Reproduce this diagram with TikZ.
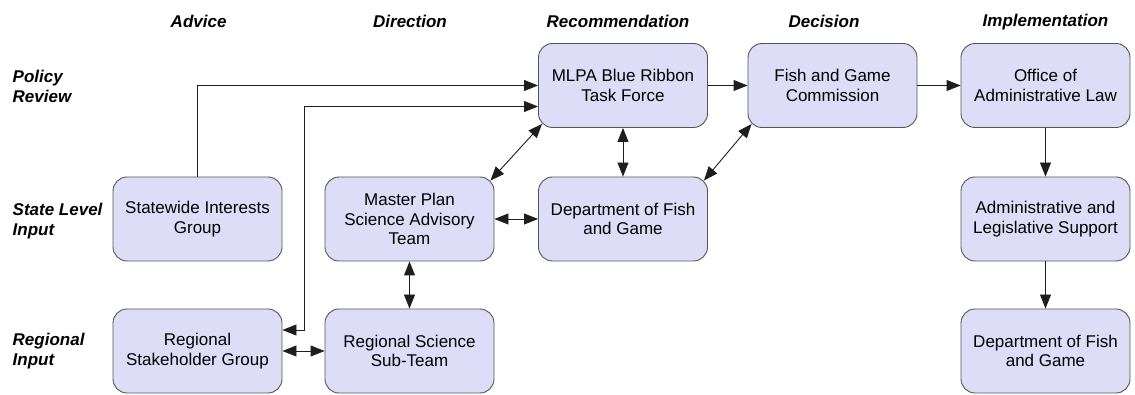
\documentclass[tikz,border=0pt]{standalone}
\usepackage{fontspec}
\setmainfont{Liberation Sans}
\usetikzlibrary{arrows.meta,calc}
\definecolor{boxfill}{RGB}{221,221,248}
\definecolor{boxline}{RGB}{85,85,85}
\definecolor{lineclr}{RGB}{30,30,30}
\begin{document}
\begin{tikzpicture}[x=1pt,y=-1pt,
  box/.style={draw=boxline,fill=boxfill,line width=0.9pt,rounded corners=14pt,
    minimum width=169pt,minimum height=84pt,inner sep=0pt,align=center,
    font=\fontsize{17}{19.5}\selectfont},
  hdr/.style={font=\fontsize{17}{19.5}\selectfont\bfseries\itshape,inner sep=0pt},
  rowlab/.style={font=\fontsize{17}{19.5}\selectfont\bfseries\itshape,inner sep=0pt,align=left,anchor=west},
  conn/.style={draw=lineclr,line width=0.9pt},
  sgl/.style={conn,-{Triangle[length=14pt,width=11pt]}},
  dbl/.style={conn,{Triangle[length=14pt,width=11pt]}-{Triangle[length=14pt,width=11pt]}}]
\useasboundingbox (0,0) rectangle (1135,395);
% headers
\node[hdr] (h1) at (198.6,21.7) {Advice};
\node[hdr] (h2) at (410,21.7) {Direction};
\node[hdr] (h3) at (618,21.7) {Recommendation};
\node[hdr] (h4) at (824,21.7) {Decision};
\node[hdr] (h5) at (1045.5,21.7) {Implementation};
% row labels
\node[rowlab] (r1) at (12.5,86.5) {Policy\\Review};
\node[rowlab] (r2) at (12.5,221.3) {State Level\\Input};
\node[rowlab] (r3) at (12.5,351.2) {Regional\\Input};
% boxes
\node[box] (mlpa) at (623,85.5) {MLPA Blue Ribbon\\Task Force};
\node[box] (fgc) at (832.5,85.5) {Fish and Game\\Commission};
\node[box] (ola) at (1045.5,85.5) {Office of\\Administrative Law};
\node[box] (swi) at (197.5,219) {Statewide Interests\\Group};
\node[box] (msat) at (409.5,219) {Master Plan\\Science Advisory\\Team};
\node[box] (dfg) at (623,219) {Department of Fish\\and Game};
\node[box] (als) at (1045.5,219) {Administrative and\\Legislative Support};
\node[box] (rsg) at (197.5,351) {Regional\\Stakeholder Group};
\node[box] (rst) at (409.5,351) {Regional Science\\Sub-Team};
\node[box] (dfg2) at (1045.5,351) {Department of Fish\\and Game};
% connectors
\coordinate (k) at (304.6,200);
\draw[sgl] (swi.north) |- (mlpa.west);
\draw[dbl] ([yshift=-21pt]mlpa.west) -| (k) |- ([yshift=21pt]rsg.east);
\draw[dbl] ([shift={(4pt,4pt)}]mlpa.south west) -- ([shift={(-4pt,-4pt)}]msat.north east);
\draw[dbl] (mlpa.south) -- (dfg.north);
\draw[dbl] ([shift={(-4pt,-4pt)}]dfg.north east) -- ([shift={(4pt,4pt)}]fgc.south west);
\draw[dbl] (msat.east) -- (dfg.west);
\draw[dbl] (msat.south) -- (rst.north);
\draw[dbl] (rsg.east) -- (rst.west);
\draw[sgl] (mlpa.east) -- (fgc.west);
\draw[sgl] (fgc.east) -- (ola.west);
\draw[sgl] (ola.south) -- (als.north);
\draw[sgl] (als.south) -- (dfg2.north);
\end{tikzpicture}
\end{document}
